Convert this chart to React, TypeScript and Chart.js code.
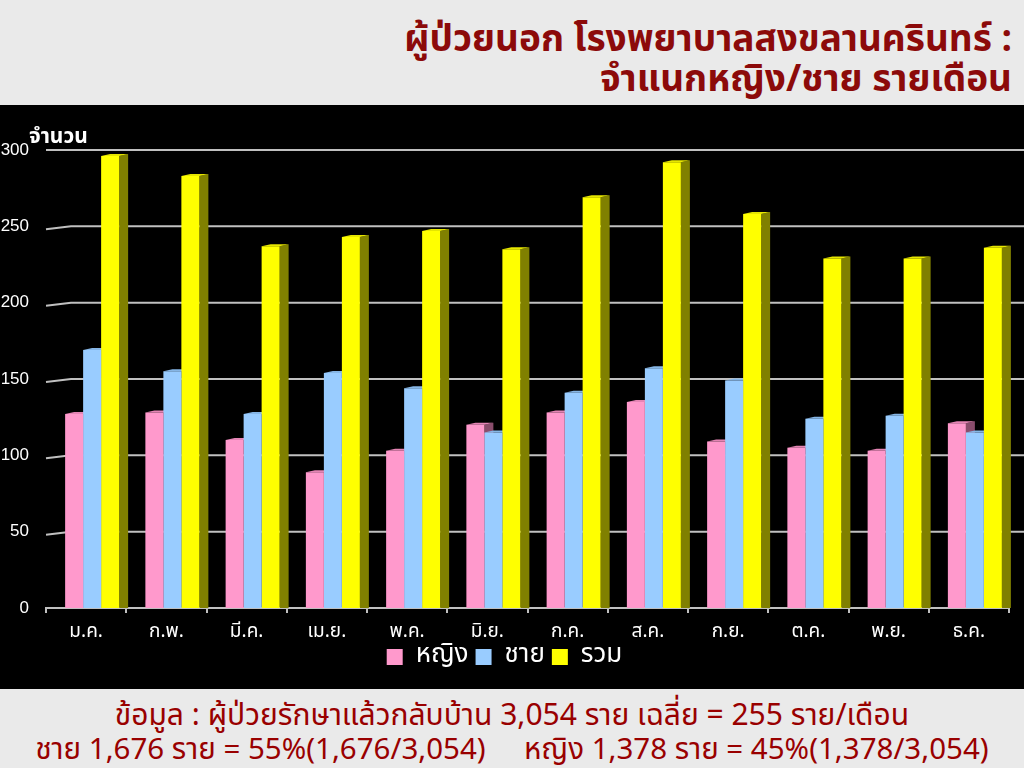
import React, { useEffect, useRef } from "react";
import { Chart, registerables } from "chart.js";

Chart.register(...registerables);

const months = ["ม.ค.", "ก.พ.", "มี.ค.", "เม.ย.", "พ.ค.", "มิ.ย.", "ก.ค.", "ส.ค.", "ก.ย.", "ต.ค.", "พ.ย.", "ธ.ค."];
const seriesNames = ["หญิง", "ชาย", "รวม"];
const female = [127, 128, 110, 89, 103, 120, 128, 135, 109, 105, 103, 121];
const male = [169, 155, 127, 154, 144, 115, 141, 157, 149, 124, 126, 115];
const total = [296, 283, 237, 243, 247, 235, 269, 292, 258, 229, 229, 236];
const yTicks = [0, 50, 100, 150, 200, 250, 300];

const frontColors = ["#ff99cc", "#99ccff", "#ffff00"];
const sideColors = ["#8a4d6c", "#4c6a8a", "#808000"];
const topColors = ["#e585b5", "#86b6e6", "#e6e600"];

const FONT = "'Noto Sans Thai', Tahoma, 'DejaVu Sans', 'Liberation Sans', sans-serif";
const DX = 9;
const DY = -2;
const SHIFT = 6;

const bar3d = {
  id: "bar3d",
  afterDatasetsUpdate(chart: any) {
    chart.data.datasets.forEach((_: any, i: number) => {
      chart.getDatasetMeta(i).data.forEach((el: any) => {
        el.x += SHIFT;
      });
    });
  },
  beforeDatasetsDraw(chart: any) {
    const { ctx, chartArea, scales } = chart;
    const ys = scales.y;
    ctx.save();
    ctx.strokeStyle = "#c0c0c0";
    ctx.lineWidth = 2;
    yTicks.forEach((v) => {
      if (v === 0) return;
      const py = ys.getPixelForValue(v);
      const slant = v === 300 ? 0 : 3;
      ctx.beginPath();
      ctx.moveTo(chartArea.left, py + slant);
      ctx.lineTo(chartArea.left + 25, py);
      ctx.lineTo(chart.width, py);
      ctx.stroke();
    });
    chart.data.datasets.forEach((_: any, i: number) => {
      const meta = chart.getDatasetMeta(i);
      meta.data.forEach((el: any) => {
        const { x, y, base, width } = el.getProps(["x", "y", "base", "width"], true);
        const l = x - width / 2;
        const r = x + width / 2;
        ctx.fillStyle = sideColors[i];
        ctx.beginPath();
        ctx.moveTo(r, y);
        ctx.lineTo(r + DX, y + DY);
        ctx.lineTo(r + DX, base);
        ctx.lineTo(r, base);
        ctx.closePath();
        ctx.fill();
        ctx.fillStyle = topColors[i];
        ctx.beginPath();
        ctx.moveTo(l, y);
        ctx.lineTo(l + DX, y + DY);
        ctx.lineTo(r + DX, y + DY);
        ctx.lineTo(r, y);
        ctx.closePath();
        ctx.fill();
      });
    });
    ctx.restore();
  },
};

export default function App() {
  const ref = useRef<HTMLCanvasElement | null>(null);

  useEffect(() => {
    if (!ref.current) return;
    const seriesData = [female, male, total];
    const chart = new Chart(ref.current, {
      type: "bar",
      data: {
        labels: months,
        datasets: seriesNames.map((name, i) => ({
          label: name,
          data: seriesData[i],
          backgroundColor: frontColors[i],
          borderWidth: 0,
          categoryPercentage: 54 / 80.25,
          barPercentage: 1,
        })),
      },
      options: {
        responsive: false,
        animation: false,
        events: [],
        layout: { padding: { left: 0, right: 15, top: 45, bottom: 9 } },
        plugins: {
          tooltip: { enabled: false },
          legend: {
            position: "bottom",
            labels: {
              color: "#ffffff",
              font: { family: FONT, size: 26 },
              boxWidth: 16,
              boxHeight: 16,
              padding: 7,
            },
          },
        },
        scales: {
          x: {
            afterFit: (s: any) => {
              s.height = 29;
            },
            ticks: { color: "#ffffff", font: { family: FONT, size: 19 }, padding: 9 },
            grid: {
              display: true,
              drawOnChartArea: false,
              drawTicks: true,
              tickLength: 5,
              color: "#c0c0c0",
              lineWidth: 2,
              offset: true,
            },
            border: { display: true, color: "#c0c0c0", width: 2 },
          },
          y: {
            min: 0,
            max: 300,
            afterFit: (s: any) => {
              s.width = 46;
            },
            afterBuildTicks: (s: any) => {
              s.ticks = yTicks.map((v) => ({ value: v }));
            },
            ticks: { color: "#ffffff", font: { family: "'Liberation Sans', Arial, sans-serif", size: 17 }, padding: 9 },
            grid: { display: false },
            border: { display: false },
          },
        },
      },
      plugins: [bar3d],
    });
    return () => chart.destroy();
  }, []);

  return (
    <div
      style={{
        position: "fixed",
        left: 0,
        top: 0,
        width: 1024,
        height: 768,
        background: "#eaeaea",
        overflow: "hidden",
        fontFamily: FONT,
      }}
    >
      <div
        style={{
          position: "absolute",
          right: 12,
          top: 20,
          textAlign: "right",
          color: "#8c0a0a",
          fontWeight: "bold",
          fontSize: 37,
          lineHeight: "40px",
          whiteSpace: "nowrap",
        }}
      >
        ผู้ป่วยนอก โรงพยาบาลสงขลานครินทร์ :
        <br />
        จำแนกหญิง/ชาย รายเดือน
      </div>
      <div style={{ position: "absolute", left: 0, top: 105, width: 1024, height: 584, background: "#000" }}>
        <canvas ref={ref} width={1024} height={584} style={{ display: "block", width: 1024, height: 584 }} />
        <div
          style={{
            position: "absolute",
            left: 29,
            top: 20,
            color: "#ffffff",
            fontWeight: "bold",
            fontSize: 21,
            lineHeight: "24px",
          }}
        >
          จำนวน
        </div>
      </div>
      <div
        style={{
          position: "absolute",
          left: 0,
          top: 699,
          width: 1024,
          textAlign: "center",
          color: "#990000",
          fontSize: 30,
          lineHeight: "34px",
          whiteSpace: "pre",
        }}
      >
        ข้อมูล : ผู้ป่วยรักษาแล้วกลับบ้าน 3,054 ราย เฉลี่ย = 255 ราย/เดือน
        <br />
        <span style={{ fontSize: 29.5 }}>
          {"ชาย 1,676 ราย = 55%(1,676/3,054)     หญิง 1,378 ราย = 45%(1,378/3,054)"}
        </span>
      </div>
    </div>
  );
}
